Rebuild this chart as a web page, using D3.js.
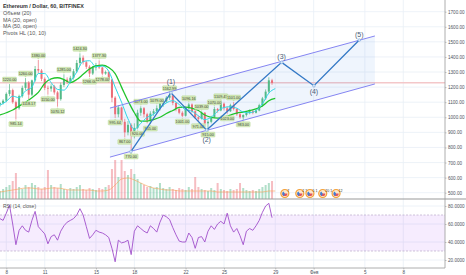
<!DOCTYPE html>
<html>
<head>
<meta charset="utf-8">
<script src="https://cdn.jsdelivr.net/npm/d3@7"></script>
<style>
  html, body { margin: 0; padding: 0; background: #fff; }
  svg { display: block; font-family: "Liberation Sans", Arial, sans-serif; }
</style>
</head>
<body>
<div id="chart"></div>
<script>
// 6h candles starting 2018-01-07 12:00 UTC
const candleStart = Date.UTC(2018, 0, 7, 12);
const candleOpen  = [1085,1095,1110,1155,1180,1100,1060,1140,1195,1230,1150,1245,1320,1310,1255,1195,1190,1205,1165,1120,1215,1250,1235,1262,1305,1360,1395,1365,1335,1290,1330,1345,1330,1290,1300,1250,1130,1020,1065,970,900,950,880,930,1030,1060,1020,980,1025,1040,1060,1090,1105,1130,1145,1095,1055,1030,1010,1060,1085,1040,1000,990,1030,960,970,1000,1055,1045,1090,1060,1040,1080,1055,1020,1000,1015,1030,1040,1030,1045,1080,1125,1170,1245];
const candleHigh  = [1100,1120,1165,1220,1190,1110,1150,1210,1260,1240,1250,1340,1380,1320,1265,1210,1220,1215,1175,1230,1285,1265,1275,1320,1380,1424.3,1410,1375,1345,1340,1360,1377.3,1335,1310,1305,1255,1140,1080,1070,990,975,960,960,1050,1073,1068,1030,1040,1055,1079,1100,1120,1140,1162.99,1150,1100,1065,1040,1070,1096.16,1092,1050,1010,1039,1035,980,1010,1070,1062,1109.45,1098,1072,1090,1101,1060,1030,1020,1040,1050,1048,1050,1090,1135,1185,1265,1255];
const candleLow   = [1070,1085,1100,1140,1090,985.14,1050,1130,1180,1118.17,1140,1235,1290,1240,1180,1150,1170,1150,1070.12,1110,1200,1220,1225,1250,1295,1340,1350,1320,1266,1280,1310,1320,1278,1282,1230,1100,995.64,1000,950,867,880,770,860,920,1010,1000,960,955,1010,1030,1045,1070,1095,1115,1080,1040,1020,1001,1005,1050,1030,990,971,985,950,915,960,995,1030,1040,1045,1023,1035,1045,1010,990,983,1005,1020,1020,1025,1040,1070,1115,1160,1215];
const candleClose = [1095,1110,1155,1180,1100,1060,1140,1195,1230,1150,1245,1320,1310,1255,1195,1190,1205,1165,1120,1215,1250,1235,1262,1305,1360,1395,1365,1335,1290,1330,1345,1330,1290,1300,1250,1130,1020,1065,970,900,950,880,930,1030,1060,1020,980,1025,1040,1060,1090,1105,1130,1145,1095,1055,1030,1010,1060,1085,1040,1000,990,1030,960,970,1000,1055,1045,1090,1060,1040,1080,1055,1020,1000,1015,1030,1040,1030,1045,1080,1125,1170,1245,1228];
const volume      = [8,10,12,14,18,26,12,10,14,12,16,14,12,10,12,29,14,12,11,15,10,9,11,10,12,14,10,9,11,10,9,11,10,12,14,30,39,22,39,28,24,30,25,20,16,14,12,13,11,12,16,11,10,12,10,9,11,10,9,12,10,22,12,10,9,8,11,9,16,10,9,8,10,9,10,16,11,9,8,9,8,10,12,14,16,18];
const rsiValues   = [66,64,72,81,60,37,53,58,53,51,64,74,57,53,49,38,46,48,42,52,58,62,64,66,70,77,70,57,44,48,53,51,50,48,45,33,18,42,39,40,42,26,52,58,55,52,50,58,55,51,62,70,68,65,56,48,41,40,40,50,45,33,45,46,40,52,58,54,60,63,60,72,58,51,55,47,37,52,55,53,58,64,73,80,83,67];

// 12h samples of the moving averages, from the same start
const ma20Values  = [1080,1105,1140,1130,1175,1200,1290,1290,1230,1185,1180,1235,1300,1370,1375,1335,1340,1305,1200,1100,990,920,960,1000,1020,1060,1095,1110,1085,1050,1040,1010,985,1000,1040,1065,1070,1060,1035,1030,1045,1090,1160,1190];
const ma50Values  = [1015,1030,1048,1075,1100,1130,1165,1225,1255,1262,1250,1230,1250,1285,1320,1340,1345,1330,1290,1200,1110,1030,975,975,985,1000,1025,1045,1065,1068,1060,1045,1015,1000,995,1000,1015,1028,1035,1045,1055,1075,1110,1125];
const volMaValues = [7,8,9,10,11,11,10,10,11,11,10,9,9,9,9,8,8,9,14,20,21,19,16,13,11,10,9,9,8,8,8,8,8,8,7,7,7,7,7,7,7,7,8,8];

// pivot labels (candle index)
const pivotHighIdx = [3,8,12,20,25,31,44,49,53,59,63,67,69,73];
const pivotLowIdx  = [5,9,15,18,28,32,36,39,41,43,47,57,62,65,71,76];

// Elliott wave drawing
const waveDates  = ["2018-01-17T17:30Z","2018-01-20T20:30Z","2018-01-23T15:30Z","2018-01-29T12:00Z","2018-02-01T00:30Z","2018-02-04T13:30Z"];
const wavePrices = [772,1163,915,1364,1209,1512];
const waveLabels = ["","(1)","(2)","(3)","(4)","(5)"];
const channelDates = ["2018-01-16T02:15Z","2018-02-05T18:45Z"];
const channelUpper = [1061,1539];
const channelLower = [736,1221];
const alertPrice = 1229;

// event icons under the chart
const iconDates = ["2018-01-29T18:00Z","2018-01-30T22:00Z","2018-01-31T17:00Z","2018-02-01T17:00Z","2018-02-02T18:00Z"];
const iconText  = ["7","2 3","5 1","20 1","12"];

const priceTicks = [500,600,700,800,900,1000,1100,1200,1300,1400,1500,1600,1700];
const rsiTicks = [20,40,60,80];
const dateTicks = ["2018-01-08","2018-01-11","2018-01-15","2018-01-18","2018-01-22","2018-01-25","2018-01-29","2018-02-01","2018-02-05","2018-02-08"].map(d => new Date(d + "T00:00Z"));

const legendLines = ["Ethereum / Dollar, 60, BITFINEX","Объем (20)","MA (20, open)","MA (50, open)","Pivots HL (10, 10)"];

const W = 466, H = 275, right = 445, paneSep = 199, bottom = 268;
const HOUR = 3600e3;

const candles = candleOpen.map((o, i) => ({
  t: new Date(candleStart + i * 6 * HOUR), o, h: candleHigh[i], l: candleLow[i], c: candleClose[i], v: volume[i], rsi: rsiValues[i]
}));
const maT = i => new Date(candleStart + i * 12 * HOUR);

const x = d3.scaleUtc()
  .domain([new Date("2018-01-08T00:00Z"), new Date("2018-02-08T00:00Z")])
  .range([6.3, 403.3]);
const y = d3.scaleLinear().domain([500, 1700]).range([192.7, 11.7]);
const yVol = d3.scaleLinear().domain([0, 40]).range([paneSep, paneSep - 40]);
const yRsi = d3.scaleLinear().domain([20, 80]).range([260, 206]);

const svg = d3.select("#chart").append("svg").attr("width", W).attr("height", H);

svg.append("defs").append("clipPath").attr("id", "main")
  .append("rect").attr("x", 0).attr("y", 0).attr("width", right).attr("height", paneSep);

// grid
const grid = svg.append("g").attr("stroke", "#e9eff6").attr("stroke-width", 0.8);
grid.selectAll(".v").data(dateTicks).join("line")
  .attr("x1", d => x(d)).attr("x2", d => x(d)).attr("y1", 0).attr("y2", bottom);
grid.selectAll(".h").data(priceTicks).join("line")
  .attr("x1", 0).attr("x2", right).attr("y1", d => y(d)).attr("y2", d => y(d));
grid.selectAll(".r").data(rsiTicks).join("line")
  .attr("x1", 0).attr("x2", right).attr("y1", d => yRsi(d)).attr("y2", d => yRsi(d));

const main = svg.append("g").attr("clip-path", "url(#main)");

// alert line
main.append("line")
  .attr("x1", 0).attr("x2", right).attr("y1", y(alertPrice)).attr("y2", y(alertPrice))
  .attr("stroke", "#f4c7c9").attr("stroke-width", 1.6);

// channel fill
const cd = channelDates.map(d => new Date(d));
main.append("path")
  .attr("d", d3.line()([[x(cd[0]), y(channelUpper[0])], [x(cd[1]), y(channelUpper[1])], [x(cd[1]), y(channelLower[1])], [x(cd[0]), y(channelLower[0])]]) + "Z")
  .attr("fill", "#2f7fe0").attr("fill-opacity", 0.08);

// volume
const up = "#53b987", down = "#eb6d78";
main.append("g").selectAll("rect").data(candles).join("rect")
  .attr("x", d => x(d.t) - 1).attr("width", 2)
  .attr("y", d => yVol(d.v)).attr("height", d => paneSep - yVol(d.v))
  .attr("fill", d => d.c >= d.o ? up : down).attr("fill-opacity", 0.45);
main.append("path")
  .datum(volMaValues)
  .attr("d", d3.line().x((d, i) => x(maT(i))).y(d => yVol(d)).curve(d3.curveMonotoneX))
  .attr("fill", "none").attr("stroke", "#f6a55c").attr("stroke-width", 0.8).attr("stroke-opacity", 0.8);

// candles
const cg = main.append("g").selectAll("g").data(candles).join("g")
  .attr("stroke", d => d.c >= d.o ? up : down).attr("fill", d => d.c >= d.o ? up : down);
cg.append("line")
  .attr("x1", d => x(d.t)).attr("x2", d => x(d.t))
  .attr("y1", d => y(d.h)).attr("y2", d => y(d.l)).attr("stroke-width", 0.7);
cg.append("rect")
  .attr("x", d => x(d.t) - 1).attr("width", 2)
  .attr("y", d => y(Math.max(d.o, d.c)))
  .attr("height", d => Math.max(0.6, Math.abs(y(d.o) - y(d.c))))
  .attr("stroke", "none");

// moving averages
const maLine = d3.line().x((d, i) => x(maT(i))).y(d => y(d)).curve(d3.curveMonotoneX);
main.append("path").datum(ma50Values).attr("d", maLine)
  .attr("fill", "none").attr("stroke", "#21c42b").attr("stroke-width", 1.3);
main.append("path").datum(ma20Values).attr("d", maLine)
  .attr("fill", "none").attr("stroke", "#2fd6e6").attr("stroke-width", 1);

// pivot labels
function pivotLabel(i, isHigh) {
  const d = candles[i];
  const px = x(d.t), val = isHigh ? d.h : d.l;
  const py = y(val);
  const bw = 14, bh = 5;
  const by = isHigh ? py - 2 - bh : py + 2;
  const g = main.append("g");
  g.append("path")
    .attr("d", isHigh
      ? `M${px - 1.2},${by + bh} L${px},${py - 0.5} L${px + 1.2},${by + bh}`
      : `M${px - 1.2},${by} L${px},${py + 0.5} L${px + 1.2},${by}`)
    .attr("fill", "#cfe6b4");
  g.append("rect").attr("x", px - bw / 2).attr("y", by).attr("width", bw).attr("height", bh)
    .attr("rx", 0.8).attr("fill", "#d3e9b9").attr("stroke", "#b5d68f").attr("stroke-width", 0.4);
  g.append("text").attr("x", px).attr("y", by + bh - 1.1).attr("text-anchor", "middle")
    .attr("font-size", 3.8).attr("fill", "#3a3f2e").text(d3.format(".2f")(val));
}
pivotHighIdx.forEach(i => pivotLabel(i, true));
pivotLowIdx.forEach(i => pivotLabel(i, false));

// channel lines
[channelUpper, channelLower].forEach(p => {
  main.append("line")
    .attr("x1", x(cd[0])).attr("y1", y(p[0])).attr("x2", x(cd[1])).attr("y2", y(p[1]))
    .attr("stroke", "#8585f2").attr("stroke-width", 1);
});

// wave
const wave = waveDates.map((d, i) => ({ t: new Date(d), p: wavePrices[i], label: waveLabels[i] }));
main.append("path").datum(wave)
  .attr("d", d3.line().x(d => x(d.t)).y(d => y(d.p)))
  .attr("fill", "none").attr("stroke", "#3479c6").attr("stroke-width", 1.3);
main.append("g").selectAll("circle").data(wave).join("circle")
  .attr("cx", d => x(d.t)).attr("cy", d => y(d.p)).attr("r", 1.4)
  .attr("fill", "#d6e6f7").attr("stroke", "#6fa0d8").attr("stroke-width", 0.5);
main.append("g").selectAll("text").data(wave.filter(d => d.label)).join("text")
  .attr("x", d => x(d.t))
  .attr("y", (d, i) => i % 2 === 0 ? y(d.p) - (i === 0 ? 8.5 : 3.5) : y(d.p) + (i === 1 ? 11.5 : 8.5))
  .attr("text-anchor", "middle").attr("font-size", 7).attr("fill", "#4a5d78")
  .text(d => d.label);

// event icons
const ig = main.append("g").selectAll("g").data(iconDates).join("g")
  .attr("transform", d => `translate(${x(new Date(d))},193.5)`);
ig.append("circle").attr("r", 4).attr("fill", "#fde7c9").attr("stroke", "#f3a13a").attr("stroke-width", 1.2);
ig.append("path").attr("d", d3.arc()({ innerRadius: 0, outerRadius: 2.6, startAngle: -Math.PI / 2, endAngle: Math.PI / 2 }))
  .attr("fill", "#e2535f").attr("transform", "rotate(180)");
ig.append("path").attr("d", d3.arc()({ innerRadius: 0, outerRadius: 2.6, startAngle: -Math.PI * 0.9, endAngle: -Math.PI * 0.2 }))
  .attr("fill", "#3d7fd6");
ig.append("text").data(iconText).attr("x", 2.5).attr("y", -1.5)
  .attr("font-size", 3.6).attr("fill", "#333").text(d => d);

// RSI pane
svg.append("rect").attr("x", 0).attr("y", yRsi(70)).attr("width", right).attr("height", yRsi(30) - yRsi(70))
  .attr("fill", "#9c27f0").attr("fill-opacity", 0.09);
[70, 30].forEach(v => svg.append("line")
  .attr("x1", 0).attr("x2", right).attr("y1", yRsi(v)).attr("y2", yRsi(v))
  .attr("stroke", "#b9a9c8").attr("stroke-width", 0.7).attr("stroke-dasharray", "2,1.5"));
svg.append("path").datum(candles)
  .attr("d", d3.line().x(d => x(d.t)).y(d => yRsi(d.rsi)))
  .attr("fill", "none").attr("stroke", "#a04fcb").attr("stroke-width", 0.9);
svg.append("text").attr("x", 3).attr("y", 208).attr("font-size", 5).attr("fill", "#555").text("RSI (14, close)");

// pane borders
svg.append("line").attr("x1", 0).attr("x2", W).attr("y1", paneSep).attr("y2", paneSep)
  .attr("stroke", "#9a9a9a").attr("stroke-width", 1.2);
svg.append("line").attr("x1", 0).attr("x2", right).attr("y1", bottom).attr("y2", bottom)
  .attr("stroke", "#9a9a9a").attr("stroke-width", 0.8);
svg.append("line").attr("x1", right).attr("x2", right).attr("y1", 0).attr("y2", bottom)
  .attr("stroke", "#9a9a9a").attr("stroke-width", 0.8);

// axes
function styleAxis(g) {
  g.select(".domain").remove();
  g.selectAll(".tick line").attr("stroke", "#9a9a9a").attr("stroke-width", 0.6);
  g.selectAll(".tick text").attr("font-size", 4.6).attr("fill", "#4c525e")
    .attr("font-family", "Liberation Sans, Arial, sans-serif");
}
svg.append("g").attr("transform", `translate(${right},0)`)
  .call(d3.axisRight(y).tickValues(priceTicks).tickFormat(d3.format(".2f")).tickSize(1.5).tickPadding(1.5))
  .call(styleAxis);
svg.append("g").attr("transform", `translate(${right},0)`)
  .call(d3.axisRight(yRsi).tickValues(rsiTicks).tickFormat(d3.format(".4f")).tickSize(1.5).tickPadding(1.5))
  .call(styleAxis);
svg.append("g").attr("transform", `translate(0,${bottom})`)
  .call(d3.axisBottom(x).tickValues(dateTicks)
    .tickFormat(d => (d.getUTCMonth() === 1 && d.getUTCDate() === 1) ? "Фев" : d.getUTCDate())
    .tickSize(1.5).tickPadding(0.8))
  .call(styleAxis);

// legend
svg.append("g").selectAll("text").data(legendLines).join("text")
  .attr("x", 3).attr("y", (d, i) => 8.4 + i * 6.65)
  .attr("font-size", 5.4).attr("fill", (d, i) => i === 0 ? "#333" : "#555")
  .attr("font-weight", (d, i) => i === 0 ? "bold" : "normal")
  .text(d => d);
</script>
</body>
</html>
